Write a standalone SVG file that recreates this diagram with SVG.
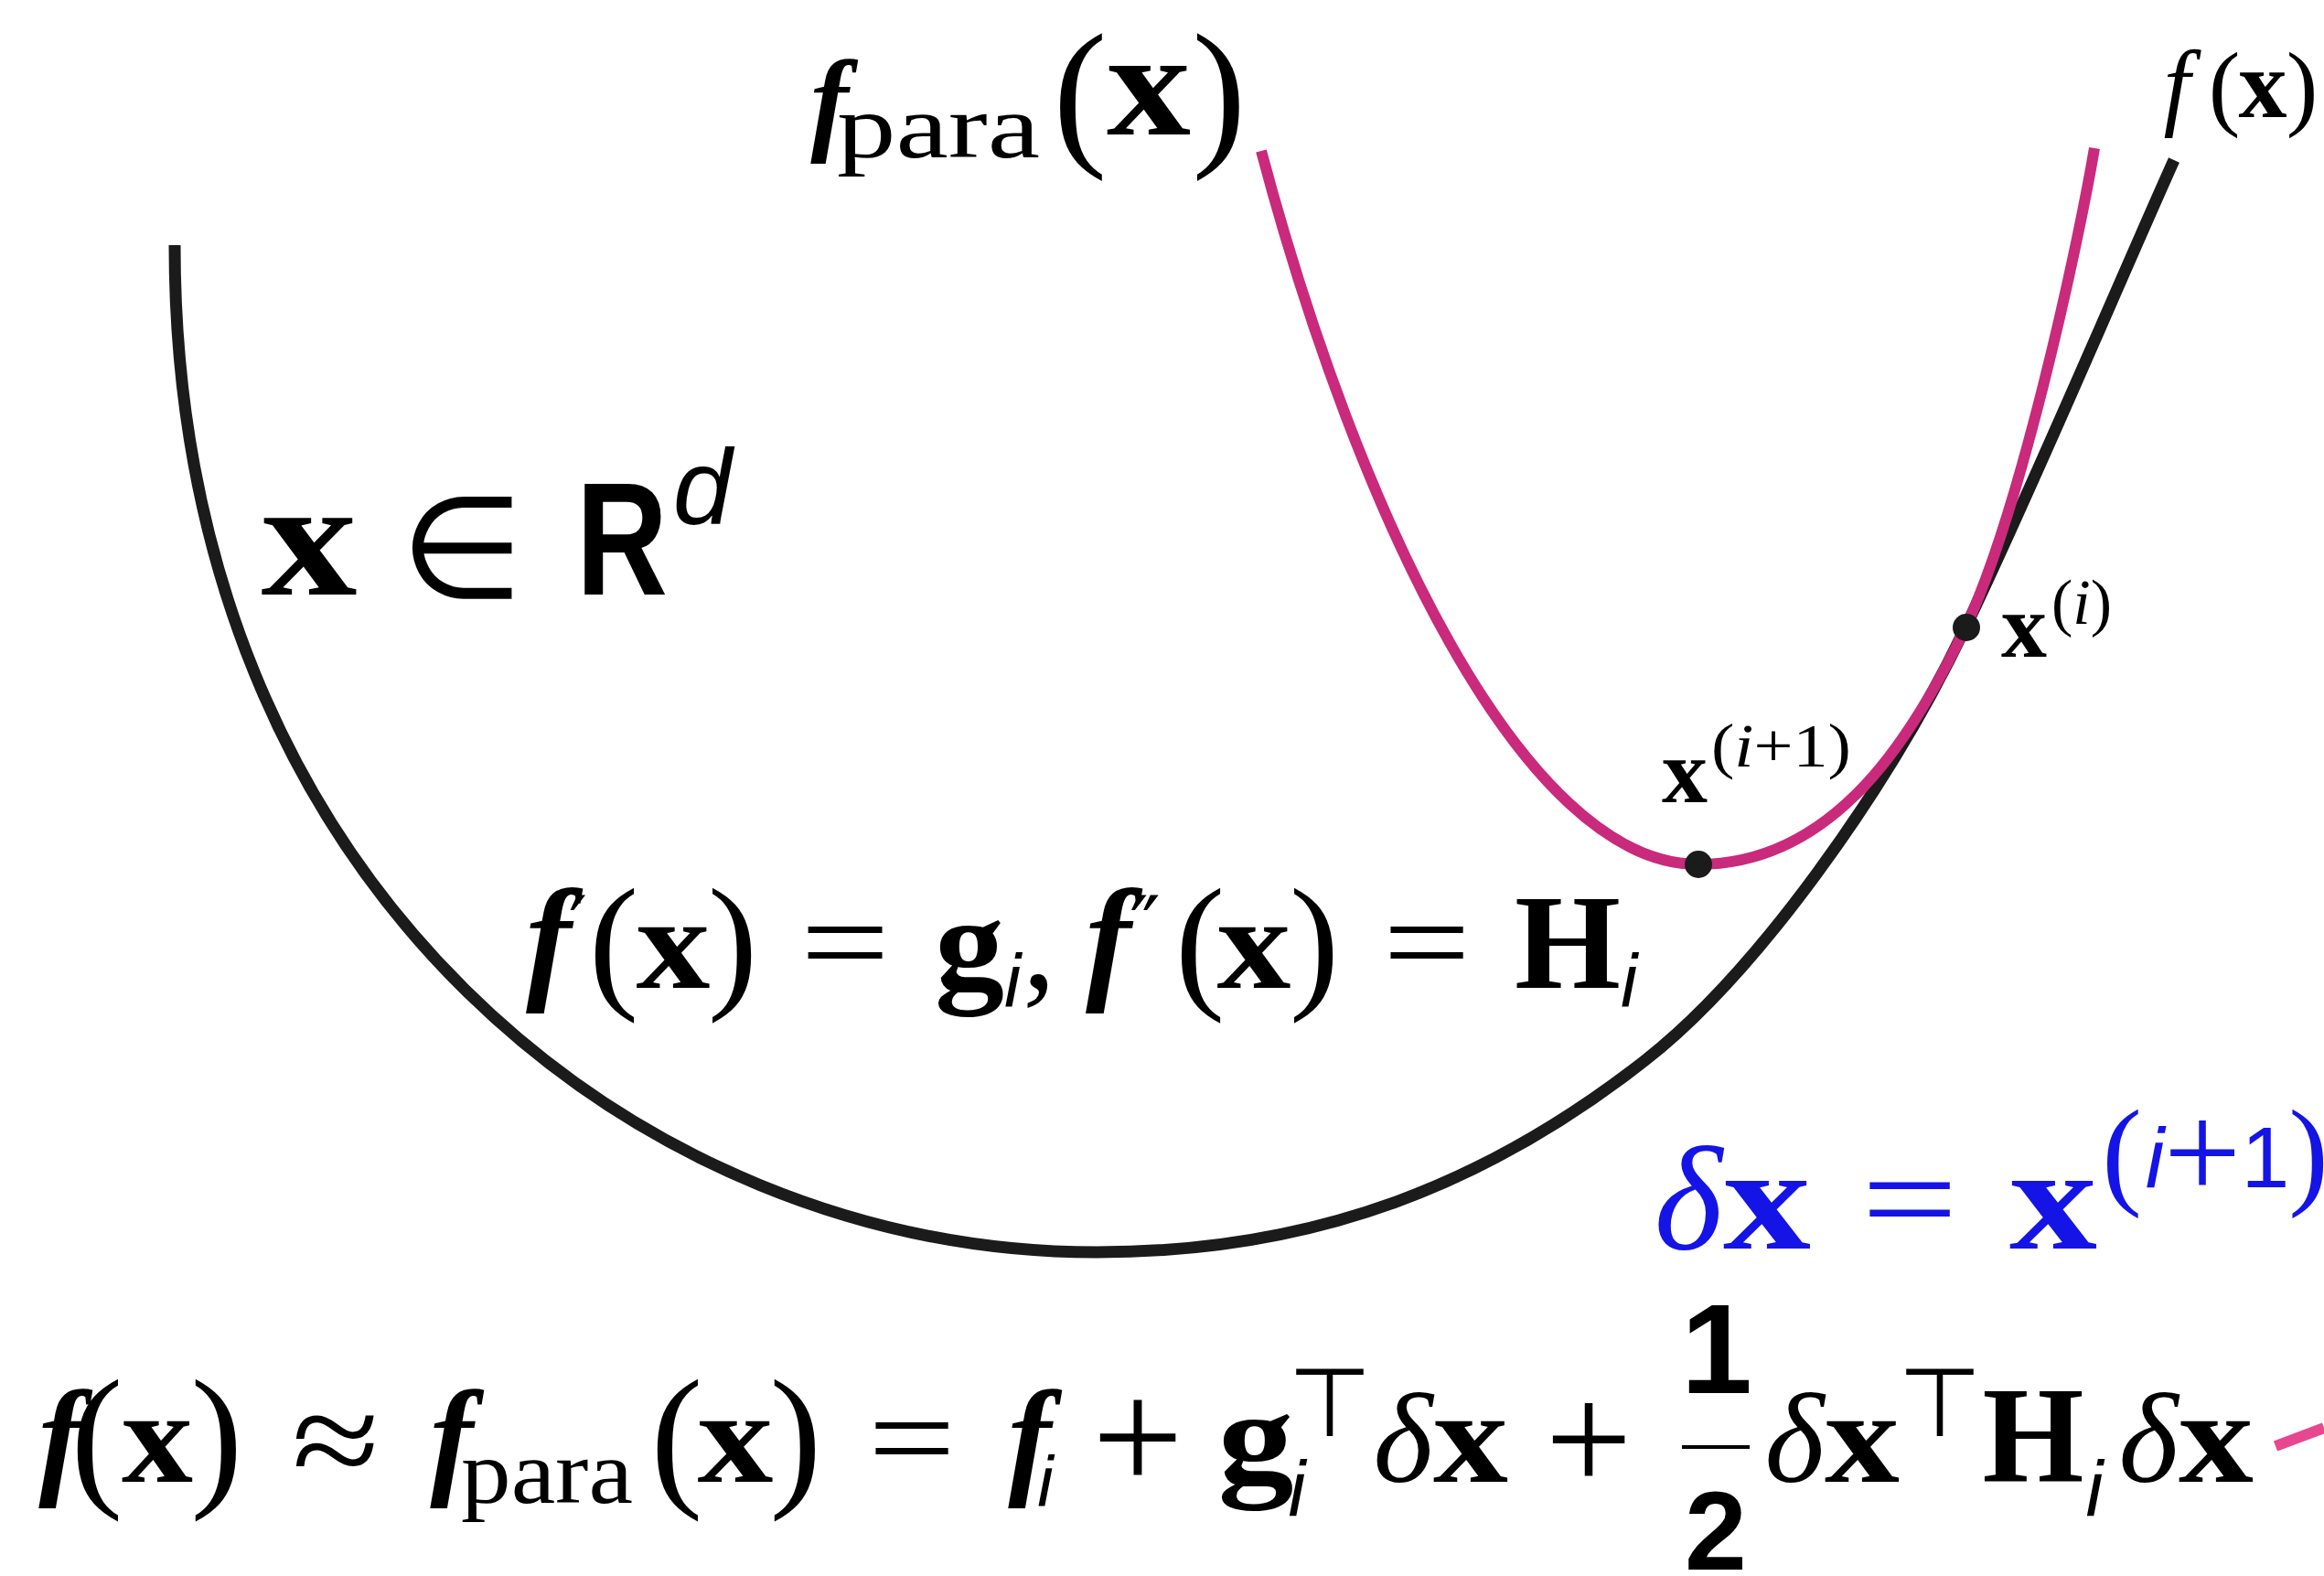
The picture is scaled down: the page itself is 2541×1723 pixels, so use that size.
<svg xmlns="http://www.w3.org/2000/svg" width="2541" height="1723" viewBox="0 0 2541 1723">
<style>
.sb{font-family:"Liberation Serif","DejaVu Serif",serif;font-weight:bold}
.sr{font-family:"Liberation Serif","DejaVu Serif",serif}
.it{font-family:"Liberation Serif","DejaVu Serif",serif;font-style:italic}
.fi{font-family:"Liberation Serif","DejaVu Serif",serif;font-style:italic;font-weight:bold}
.si{font-family:"Liberation Sans","DejaVu Sans",sans-serif;font-style:italic}
.ss{font-family:"Liberation Sans","DejaVu Sans",sans-serif}
.sbf{font-family:"Liberation Sans","DejaVu Sans",sans-serif;font-weight:bold}
.sym{font-family:"DejaVu Sans","Liberation Sans",sans-serif}
.m{text-anchor:middle}
.curve{fill:none;stroke-linecap:butt;stroke-linejoin:round}
.blk{stroke:#1b1b1b;stroke-width:13}
.pnk{stroke:#c92a7c;stroke-width:12}
.dot{fill:#1b1b1b}
.blue{fill:#1414e6}
</style>
<rect width="2541" height="1723" fill="#ffffff"/>
<g id="curves">
<path id="f-curve" class="curve blk" d="M 191 268 C 191 968, 699 1369, 1199 1369 C 1439 1369, 1625.6 1294.5, 1799 1159 C 1917.2 1066.6, 2063 866, 2149 686 C 2226.4 524, 2315.5 312, 2377 175"/>
<path id="fpara-curve" class="curve pnk" d="M 1379 165 C 1484 560, 1665 945, 1857 945 C 2007 945, 2093.1 803, 2149 686 C 2207 564, 2270 280, 2290 162"/>
</g>
<g id="connectors">
<line x1="2488" y1="1581" x2="2541" y2="1561" stroke="#e8478f" stroke-width="12"/>
</g>
<g id="point-xi">
<circle class="dot" cx="2150" cy="686" r="15"/>
</g>
<g id="point-xi1">
<circle class="dot" cx="1857" cy="945" r="15"/>
</g>
<g id="label-fpara">
<text class="fi m" x="907" y="152" font-size="125">f</text>
<text class="sr" x="915" y="172" font-size="100" textLength="222" lengthAdjust="spacingAndGlyphs">para</text>
<text class="sr m" x="1181" y="160" font-size="178">(</text>
<text class="sb m" x="1256" y="147" font-size="164" textLength="92" lengthAdjust="spacingAndGlyphs">x</text>
<text class="sr m" x="1333" y="160" font-size="178">)</text>
</g>
<g id="label-fx">
<text class="it m" x="2380" y="128" font-size="105">f</text>
<text class="sr m" x="2432" y="129" font-size="104">(</text>
<text class="sb m" x="2474" y="128" font-size="106">x</text>
<text class="sr m" x="2517" y="129" font-size="104">)</text>
</g>
<g id="label-domain">
<text class="sb m" x="338" y="650" font-size="182" textLength="105" lengthAdjust="spacingAndGlyphs">x</text>
<text class="sym m" x="505" y="653" font-size="155">∈</text>
<text class="sbf m" x="680" y="650" font-size="177" textLength="100" lengthAdjust="spacingAndGlyphs">R</text>
<text class="si m" x="768" y="573" font-size="116">d</text>
</g>
<g id="label-derivatives">
<text class="fi m" x="600" y="1076" font-size="150">f</text>
<text class="sym m" x="632" y="1045" font-size="90">′</text>
<text class="sr m" x="671" y="1084" font-size="164">(</text>
<text class="sb m" x="736" y="1080" font-size="145" textLength="81" lengthAdjust="spacingAndGlyphs">x</text>
<text class="sr m" x="801" y="1084" font-size="164">)</text>
<text class="sr m" x="924" y="1077" font-size="140" textLength="98" lengthAdjust="spacingAndGlyphs">=</text>
<text class="sb m" x="1060" y="1080" font-size="145" textLength="76" lengthAdjust="spacingAndGlyphs">g</text>
<text class="si m" x="1107" y="1100" font-size="82">i</text>
<text class="sr m" x="1136" y="1080" font-size="145">,</text>
<text class="fi m" x="1212" y="1076" font-size="150">f</text>
<text class="sym m" x="1252" y="1045" font-size="90">″</text>
<text class="sr m" x="1312" y="1084" font-size="164">(</text>
<text class="sb m" x="1371" y="1080" font-size="145" textLength="81" lengthAdjust="spacingAndGlyphs">x</text>
<text class="sr m" x="1437" y="1084" font-size="164">)</text>
<text class="sr m" x="1560" y="1077" font-size="140" textLength="96" lengthAdjust="spacingAndGlyphs">=</text>
<text class="sb m" x="1714" y="1080" font-size="148" textLength="116" lengthAdjust="spacingAndGlyphs">H</text>
<text class="si m" x="1781" y="1100" font-size="82">i</text>
</g>
<g id="label-xi">
<text class="sb m" x="2213" y="718" font-size="100">x</text>
<text class="sr m" x="2276" y="682" font-size="70">(<tspan class="it">i</tspan>)</text>
</g>
<g id="label-xi1">
<text class="sb m" x="1842" y="877" font-size="100">x</text>
<text class="sr" x="1871" y="838" font-size="68" textLength="153" lengthAdjust="spacingAndGlyphs">(<tspan class="it">i</tspan>+1)</text>
</g>
<g id="label-step" class="blue">
<text class="it m" x="1846" y="1365" font-size="160">δ</text>
<text class="sb m" x="1932" y="1365" font-size="160" textLength="96" lengthAdjust="spacingAndGlyphs">x</text>
<text class="sr m" x="2088" y="1361" font-size="150" textLength="106" lengthAdjust="spacingAndGlyphs">=</text>
<text class="sb m" x="2245" y="1365" font-size="160" textLength="96" lengthAdjust="spacingAndGlyphs">x</text>
<text class="sr m" x="2320" y="1304" font-size="131">(</text>
<text class="si m" x="2356" y="1298" font-size="93">i</text>
<text class="sr m" x="2408" y="1310" font-size="150">+</text>
<text class="ss m" x="2477" y="1298" font-size="95">1</text>
<text class="sr m" x="2524" y="1304" font-size="131">)</text>
</g>
<g id="label-taylor">
<text class="fi m" x="66" y="1619" font-size="142">f</text>
<text class="sr m" x="106" y="1627" font-size="172">(</text>
<text class="sb m" x="172" y="1620" font-size="145" textLength="78" lengthAdjust="spacingAndGlyphs">x</text>
<text class="sr m" x="237" y="1627" font-size="172">)</text>
<text class="sr m" x="367" y="1625" font-size="150" textLength="96" lengthAdjust="spacingAndGlyphs">≈</text>
<text class="fi m" x="494" y="1619" font-size="142">f</text>
<text class="sr" x="504" y="1643" font-size="100" textLength="188" lengthAdjust="spacingAndGlyphs">para</text>
<text class="sr m" x="740" y="1627" font-size="172">(</text>
<text class="sb m" x="804" y="1620" font-size="145" textLength="83" lengthAdjust="spacingAndGlyphs">x</text>
<text class="sr m" x="870" y="1627" font-size="172">)</text>
<text class="sr m" x="997" y="1619" font-size="140" textLength="96" lengthAdjust="spacingAndGlyphs">=</text>
<text class="fi m" x="1126" y="1619" font-size="142">f</text>
<text class="si m" x="1143" y="1647" font-size="78">i</text>
<text class="sr m" x="1244" y="1630" font-size="175" textLength="100" lengthAdjust="spacingAndGlyphs">+</text>
<text class="sb m" x="1373" y="1620" font-size="145" textLength="83" lengthAdjust="spacingAndGlyphs">g</text>
<text class="si m" x="1418" y="1657" font-size="85">i</text>
<text class="sym m" x="1454" y="1570" font-size="105">⊤</text>
<text class="it m" x="1534" y="1620" font-size="140">δ</text>
<text class="sb m" x="1608" y="1620" font-size="145" textLength="82" lengthAdjust="spacingAndGlyphs">x</text>
<text class="sr m" x="1737" y="1630" font-size="170" textLength="95" lengthAdjust="spacingAndGlyphs">+</text>
<text class="sbf m" x="1877" y="1523" font-size="140">1</text>
<line x1="1839" y1="1582" x2="1913" y2="1582" stroke="#000" stroke-width="4"/>
<text class="sbf m" x="1876" y="1716" font-size="122">2</text>
<text class="it m" x="1962" y="1620" font-size="140">δ</text>
<text class="sb m" x="2036" y="1620" font-size="145" textLength="82" lengthAdjust="spacingAndGlyphs">x</text>
<text class="sym m" x="2121" y="1570" font-size="105">⊤</text>
<text class="sb m" x="2223" y="1620" font-size="150" textLength="111" lengthAdjust="spacingAndGlyphs">H</text>
<text class="si m" x="2290" y="1657" font-size="85">i</text>
<text class="it m" x="2349" y="1620" font-size="140">δ</text>
<text class="sb m" x="2423" y="1620" font-size="145" textLength="82" lengthAdjust="spacingAndGlyphs">x</text>
</g>
</svg>
